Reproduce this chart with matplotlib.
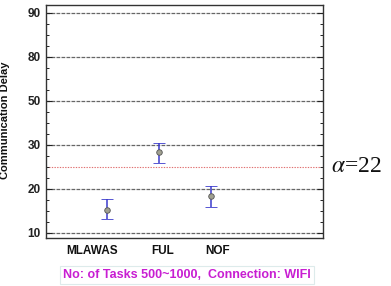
import numpy as np
import matplotlib
matplotlib.use("Agg")
import matplotlib.pyplot as plt

# data
methods = ["MLAWAS", "FUL", "NOF"]
delay_mean = [15.2, 28.3, 18.5]
delay_low = [13.1, 25.8, 15.9]
delay_high = [17.7, 31.0, 20.7]
y_ticks = [10, 20, 30, 50, 80, 90]
alpha_level = 25
alpha_label = r"$\alpha$=22"
caption = "No: of Tasks 500~1000,  Connection: WIFI"

# the y axis is drawn with equally spaced, non-uniform tick values
scale_vals = [0] + y_ticks + [100]
scale_idx = list(range(-1, len(y_ticks) + 1))


def forward(v):
    return np.interp(v, scale_vals, scale_idx)


def inverse(i):
    return np.interp(i, scale_idx, scale_vals)


plt.rcParams["font.family"] = ["Liberation Sans", "DejaVu Sans"]
plt.rcParams["mathtext.fontset"] = "stix"

fig = plt.figure(figsize=(3.91, 2.86), dpi=100)
fig.patch.set_facecolor("white")
ax = fig.add_axes([0.1176, 0.168, 0.708, 0.8147])

ax.set_yscale("function", functions=(forward, inverse))
ax.set_ylim(inverse(-0.114), inverse(5.18))

x = np.arange(len(methods))
ax.set_xlim(-1.17, 4.15)

# grid lines at the major ticks
for v in y_ticks:
    ax.axhline(v, color="#666666", lw=0.9, ls=(0, (3, 1)), zorder=1)
ax.axhline(alpha_level, color="#E07070", lw=0.8, ls=(0, (1.2, 1.2)), zorder=1)

yerr = [np.array(delay_mean) - np.array(delay_low),
        np.array(delay_high) - np.array(delay_mean)]
ax.errorbar(x, delay_mean, yerr=yerr, fmt="o", color="#3A3ACC",
            ecolor="#3A3ACC", elinewidth=1.1, capsize=4.5, capthick=1.1,
            markersize=4, markerfacecolor="#A0A090",
            markeredgecolor="#555555", markeredgewidth=0.6, zorder=3)

ax.set_yticks(y_ticks)
ax.set_yticklabels([str(t) for t in y_ticks], fontsize=8.5, fontweight="bold")
minor = inverse(np.arange(0, len(y_ticks) - 1, 0.25))
minor = [m for m in minor if m not in y_ticks]
ax.set_yticks(minor, minor=True)
ax.tick_params(axis="y", which="major", direction="in", length=4, width=0.8,
               right=True, pad=4, colors="#222222")
ax.tick_params(axis="y", which="minor", direction="in", length=2.5, width=0.7,
               right=True, colors="#222222")

ax.set_xticks([])
label_shift = [-0.29, 0.08, 0.12]
for xi, name, dx in zip(x, methods, label_shift):
    ax.text(xi + dx, -0.055, name, transform=ax.get_xaxis_transform(),
            ha="center", va="center", fontsize=8.5, fontweight="bold",
            color="#111111")

for sp in ax.spines.values():
    sp.set_color("#333333")
    sp.set_linewidth(1.0)

fig.text(0.014, 0.58, "Communication Delay", rotation=90, ha="center",
         va="center", fontsize=8, fontweight="bold", color="#111111")

ax.text(1.03, alpha_level, alpha_label, transform=ax.get_yaxis_transform(),
        ha="left", va="center", fontsize=17, family="Liberation Serif",
        color="#111111")

fig.text(0.4783, 0.0385, caption, ha="center", va="center", fontsize=9,
         fontweight="bold", color="#C81ED2",
         bbox=dict(boxstyle="square,pad=0.25", facecolor="white",
                   edgecolor="#DDEBEB", linewidth=0.8))

fig.savefig("out.png", dpi=100, facecolor="white")
